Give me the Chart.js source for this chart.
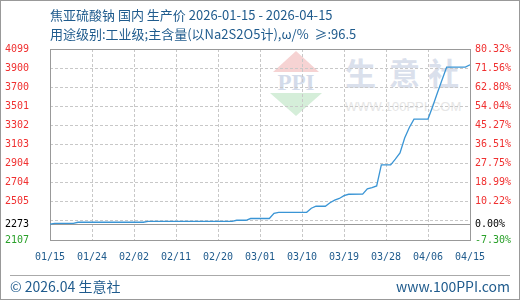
<!DOCTYPE html>
<html>
<head>
<meta charset="utf-8">
<script src="https://cdn.jsdelivr.net/npm/chart.js@4.4.1/dist/chart.umd.min.js"></script>
<style>
  body { margin: 0; background: #fff; }
  #wrap { position: relative; width: 520px; height: 300px; overflow: hidden; }
  #wrap div { position: absolute; white-space: pre; }
  canvas { position: absolute; left: 0; top: 0; z-index: 1; display: block; }
  .mark { z-index: 0; }
  .txt { z-index: 2; color: #1f5b8d; font-family: "Noto Sans CJK SC"; }
  .wm-cjk { font: bold 31px/31px "Noto Sans CJK SC"; color: #dae0ec; top: 56px; }
</style>
</head>
<body>
<div id="wrap">
  <div class="mark" style="left:266px; top:71px; width:60px; text-align:center; font:bold 23px/24px 'Liberation Serif'; color:#d3dbea;">PPI</div>
  <div class="mark wm-cjk" style="left:345px;">生</div>
  <div class="mark wm-cjk" style="left:389px;">意</div>
  <div class="mark wm-cjk" style="left:428px;">社</div>
  <div class="mark" style="left:345px; top:99px; font:13px/16px 'Liberation Sans'; color:#e6e6e6;">WWW.100PPI.COM</div>
  <canvas id="priceChart" width="520" height="300"></canvas>
  <div class="txt" id="title1" style="left:50px; top:6px; font-size:13px; line-height:18px;"></div>
  <div class="txt" id="title2" style="left:50px; top:25px; font-size:13px; line-height:18px;"></div>
  <div class="txt" id="footL" style="left:10px; top:276px; font-size:14px; line-height:20px;"></div>
  <div class="txt" id="footR" style="right:10px; top:276px; font-size:14px; line-height:20px;"></div>
  <div style="z-index:2; left:10px; top:275px; width:500px; height:0; border-top:1px solid #aaa;"></div>
  <div style="z-index:3; left:0; top:0; width:520px; height:300px; box-sizing:border-box; border:1px solid #999;"></div>
</div>
<script>
// day offsets from 2026-01-15 and the price read at that day
const days   = [0, 1, 5, 6, 20, 21, 39, 40, 42, 43, 47, 48, 49, 55, 56, 57, 59, 60, 61, 62,
                63, 64, 67, 68, 69, 70, 71, 73, 74, 75, 76, 77, 78, 81, 82, 83, 84, 85, 89, 90];
const prices = [2273, 2281, 2281, 2292, 2292, 2302, 2302, 2313, 2313, 2331, 2331, 2385, 2396, 2396, 2438, 2459, 2459, 2495, 2522, 2540,
                2570, 2584, 2586, 2640, 2653, 2671, 2890, 2890, 2950, 3015, 3170, 3280, 3368, 3368, 3500, 3640, 3775, 3911, 3911, 3935];

const xLabels = ['01/15', '01/24', '02/02', '02/11', '02/20', '03/01', '03/10', '03/19', '03/28', '04/06', '04/15'];
const xStep = 9;

const yMin = 2107, yMax = 4099, basePrice = 2273;
const leftLabels  = ['2107', '2273', '2505', '2704', '2904', '3103', '3302', '3501', '3700', '3900', '4099'];
const rightLabels = ['-7.30%', '0.00%', '10.22%', '18.99%', '27.75%', '36.51%', '45.27%', '54.04%', '62.80%', '71.56%', '80.32%'];

const titleLines = ['焦亚硫酸钠 国内 生产价 2026-01-15 - 2026-04-15', '用途级别:工业级;主含量(以Na2S2O5计),ω/%  ≥:96.5'];
const footerLeft = '© 2026.04 生意社';
const footerRight = 'www.100PPI.com';

document.getElementById('title1').textContent = titleLines[0];
document.getElementById('title2').textContent = titleLines[1];
document.getElementById('footL').textContent = footerLeft;
document.getElementById('footR').textContent = footerRight;

const BLUE_TEXT = '#1f5b8d';
const GRID = '#c8c8c8';
const FRAME = '#999';
const tickFont = {family: 'DejaVu Sans Mono', size: 10};

const gridStep = (yMax - yMin) / 10;
function gridValues() {
    return leftLabels.map((l, i) => yMin + i * gridStep);
}
function labelValues() {
    // second label sits on the base price instead of the grid line
    return leftLabels.map((l, i) => i === 1 ? basePrice : yMin + i * gridStep);
}
function labelColor(ctx) {
    if (ctx.index === 0) return '#2aa02a';
    if (ctx.index === 1) return '#000';
    return '#f03030';
}

// watermark logo triangles, under the grid
const logo = {
    id: 'logo',
    beforeDraw(chart) {
        const ctx = chart.ctx;
        ctx.save();
        ctx.fillStyle = '#f6d3d3';
        ctx.beginPath();
        ctx.moveTo(296, 51); ctx.lineTo(319, 72); ctx.lineTo(273, 72);
        ctx.closePath(); ctx.fill();
        ctx.fillStyle = '#d5eed9';
        ctx.beginPath();
        ctx.moveTo(270, 93); ctx.lineTo(322, 93); ctx.lineTo(296, 116);
        ctx.closePath(); ctx.fill();
        ctx.restore();
    }
};

new Chart(document.getElementById('priceChart'), {
    type: 'line',
    data: {
        datasets: [{
            data: days.map((d, i) => ({x: d, y: prices[i]})),
            borderColor: '#3a95d5',
            borderWidth: 1.3,
            pointRadius: 0,
            tension: 0,
            fill: false,
        }]
    },
    options: {
        responsive: false,
        animation: false,
        events: [],
        layout: {padding: {left: 5, top: 49, right: 0, bottom: 0}},
        plugins: {legend: {display: false}, tooltip: {enabled: false}},
        scales: {
            x: {
                type: 'linear',
                min: 0,
                max: (xLabels.length - 1) * xStep,
                afterBuildTicks: s => { s.ticks = xLabels.map((l, i) => ({value: i * xStep})); },
                afterFit: s => { s.height = 60; },
                ticks: {
                    callback: (v, i) => xLabels[i],
                    color: BLUE_TEXT,
                    font: tickFont,
                    padding: 11,
                    maxRotation: 0,
                    autoSkip: false,
                },
                grid: {color: GRID, drawTicks: false},
                border: {color: FRAME, dash: [3, 2]},
            },
            // top edge of the plot frame
            x2: {
                type: 'linear',
                position: 'top',
                min: 0,
                max: (xLabels.length - 1) * xStep,
                afterFit: s => { s.height = 0; },
                ticks: {display: false},
                grid: {color: 'rgba(0,0,0,0)', drawTicks: false},
                border: {color: FRAME},
            },
            yg: {
                position: 'left',
                min: yMin,
                max: yMax,
                afterBuildTicks: s => { s.ticks = gridValues().map(v => ({value: v})); },
                afterFit: s => { s.width = 0; },
                ticks: {display: false},
                grid: {
                    color: ctx => (ctx.index === 0 || ctx.index === leftLabels.length - 1) ? 'rgba(0,0,0,0)' : GRID,
                    drawTicks: false,
                },
                border: {display: false, dash: [3, 2]},
            },
            y: {
                position: 'left',
                min: yMin,
                max: yMax,
                afterBuildTicks: s => { s.ticks = labelValues().map(v => ({value: v})); },
                afterFit: s => { s.width = 45; },
                ticks: {
                    callback: (v, i) => leftLabels[i],
                    color: labelColor,
                    font: tickFont,
                    crossAlign: 'far',
                    autoSkip: false,
                },
                grid: {
                    color: ctx => ctx.index === 1 ? FRAME : 'rgba(0,0,0,0)',
                    drawTicks: false,
                },
                border: {color: FRAME},
            },
            y2: {
                position: 'right',
                min: yMin,
                max: yMax,
                afterBuildTicks: s => { s.ticks = labelValues().map(v => ({value: v})); },
                afterFit: s => { s.width = 50; },
                ticks: {
                    callback: (v, i) => rightLabels[i],
                    color: labelColor,
                    font: tickFont,
                    padding: 5,
                    autoSkip: false,
                },
                grid: {drawOnChartArea: false, drawTicks: false},
                border: {color: FRAME},
            },
        },
    },
    plugins: [logo],
});
</script>
</body>
</html>
